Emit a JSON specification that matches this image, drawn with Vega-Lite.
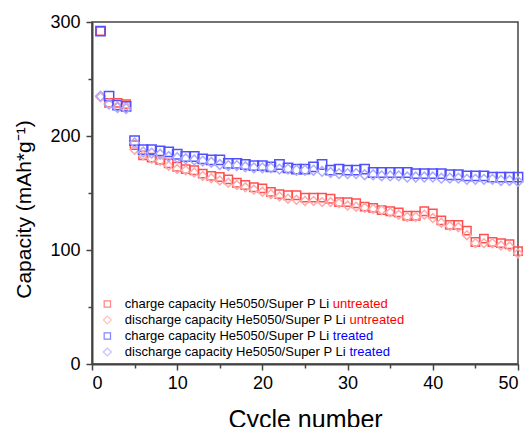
{
  "$schema": "https://vega.github.io/schema/vega-lite/v6.json",
  "width": 426,
  "height": 342,
  "autosize": {"type": "none"},
  "padding": {"left": 92, "top": 22, "right": 11, "bottom": 63},
  "background": "white",
  "config": {
    "view": {"stroke": "#444444", "strokeWidth": 1.5},
    "font": "Liberation Sans",
    "axis": {"grid": false, "domainColor": "#444444", "domainWidth": 2, "tickColor": "#444444", "tickWidth": 1.5, "labelColor": "black", "titleColor": "black", "labelFont": "Liberation Sans", "titleFont": "Liberation Sans", "titleFontWeight": "normal"}
  },
  "datasets": {
    "cap": [
      {"cycle": 1, "cu": 292, "du": 234, "ct": 292, "dt": 235},
      {"cycle": 2, "cu": 229, "du": 228, "ct": 235, "dt": 228},
      {"cycle": 3, "cu": 229, "du": 226, "ct": 227, "dt": 225},
      {"cycle": 4, "cu": 228, "du": 226, "ct": 226, "dt": 224},
      {"cycle": 5, "cu": 192, "du": 188, "ct": 196, "dt": 194},
      {"cycle": 6, "cu": 183, "du": 183, "ct": 188, "dt": 186},
      {"cycle": 7, "cu": 181, "du": 180, "ct": 188, "dt": 185},
      {"cycle": 8, "cu": 179, "du": 178, "ct": 187, "dt": 184},
      {"cycle": 9, "cu": 176, "du": 174, "ct": 186, "dt": 182},
      {"cycle": 10, "cu": 173, "du": 171, "ct": 184, "dt": 181},
      {"cycle": 11, "cu": 171, "du": 170, "ct": 182, "dt": 180},
      {"cycle": 12, "cu": 170, "du": 168, "ct": 182, "dt": 179},
      {"cycle": 13, "cu": 167, "du": 165, "ct": 180, "dt": 178},
      {"cycle": 14, "cu": 165, "du": 163, "ct": 179, "dt": 177},
      {"cycle": 15, "cu": 164, "du": 161, "ct": 179, "dt": 175},
      {"cycle": 16, "cu": 162, "du": 159, "ct": 176, "dt": 174},
      {"cycle": 17, "cu": 159, "du": 157, "ct": 176, "dt": 174},
      {"cycle": 18, "cu": 157, "du": 155, "ct": 175, "dt": 173},
      {"cycle": 19, "cu": 155, "du": 153, "ct": 174, "dt": 172},
      {"cycle": 20, "cu": 154, "du": 151, "ct": 174, "dt": 172},
      {"cycle": 21, "cu": 151, "du": 149, "ct": 173, "dt": 172},
      {"cycle": 22, "cu": 149, "du": 147, "ct": 175, "dt": 171},
      {"cycle": 23, "cu": 148, "du": 145, "ct": 172, "dt": 171},
      {"cycle": 24, "cu": 148, "du": 144, "ct": 171, "dt": 170},
      {"cycle": 25, "cu": 146, "du": 143, "ct": 171, "dt": 170},
      {"cycle": 26, "cu": 146, "du": 143, "ct": 173, "dt": 170},
      {"cycle": 27, "cu": 146, "du": 142, "ct": 175, "dt": 169},
      {"cycle": 28, "cu": 145, "du": 142, "ct": 170, "dt": 168},
      {"cycle": 29, "cu": 142, "du": 141, "ct": 171, "dt": 167},
      {"cycle": 30, "cu": 142, "du": 139, "ct": 170, "dt": 167},
      {"cycle": 31, "cu": 141, "du": 138, "ct": 170, "dt": 167},
      {"cycle": 32, "cu": 138, "du": 137, "ct": 171, "dt": 166},
      {"cycle": 33, "cu": 137, "du": 136, "ct": 168, "dt": 166},
      {"cycle": 34, "cu": 135, "du": 135, "ct": 168, "dt": 165},
      {"cycle": 35, "cu": 134, "du": 133, "ct": 168, "dt": 165},
      {"cycle": 36, "cu": 133, "du": 131, "ct": 168, "dt": 165},
      {"cycle": 37, "cu": 130, "du": 129, "ct": 168, "dt": 164},
      {"cycle": 38, "cu": 130, "du": 129, "ct": 167, "dt": 164},
      {"cycle": 39, "cu": 134, "du": 131, "ct": 167, "dt": 164},
      {"cycle": 40, "cu": 132, "du": 128, "ct": 167, "dt": 164},
      {"cycle": 41, "cu": 126, "du": 124, "ct": 167, "dt": 163},
      {"cycle": 42, "cu": 122, "du": 121, "ct": 166, "dt": 163},
      {"cycle": 43, "cu": 122, "du": 120, "ct": 166, "dt": 163},
      {"cycle": 44, "cu": 117, "du": 113, "ct": 165, "dt": 162},
      {"cycle": 45, "cu": 107, "du": 106, "ct": 165, "dt": 162},
      {"cycle": 46, "cu": 110, "du": 106, "ct": 165, "dt": 162},
      {"cycle": 47, "cu": 107, "du": 106, "ct": 164, "dt": 162},
      {"cycle": 48, "cu": 106, "du": 104, "ct": 164, "dt": 161},
      {"cycle": 49, "cu": 105, "du": 103, "ct": 164, "dt": 161},
      {"cycle": 50, "cu": 99, "du": 97, "ct": 164, "dt": 160}
    ],
    "legend": [
      {"series": "cu", "order": 1, "kind": "charge", "prefix": "charge capacity He5050/Super P Li", "word": "untreated"},
      {"series": "du", "order": 2, "kind": "discharge", "prefix": "discharge capacity He5050/Super P Li", "word": "untreated"},
      {"series": "ct", "order": 3, "kind": "charge", "prefix": "charge capacity He5050/Super P Li", "word": "treated"},
      {"series": "dt", "order": 4, "kind": "discharge", "prefix": "discharge capacity He5050/Super P Li", "word": "treated"}
    ]
  },
  "layer": [
    {
      "data": {"name": "cap"},
      "transform": [{"fold": ["cu", "du", "ct", "dt"], "as": ["series", "capacity"]}],
      "mark": {"type": "point", "filled": false, "strokeWidth": 1.5, "opacity": 1},
      "encoding": {
        "x": {"field": "cycle", "type": "quantitative", "scale": {"domain": [0, 50], "nice": false},
          "axis": {"title": "Cycle number", "titleFontSize": 25, "titlePadding": 15, "labelFontSize": 18, "labelPadding": 4,
            "values": [0, 5, 10, 15, 20, 25, 30, 35, 40, 45, 50],
            "labelExpr": "datum.value % 10 === 0 ? datum.label : ''",
            "tickSize": {"condition": {"test": "datum.value % 10 === 0", "value": 6}, "value": 4}}},
        "y": {"field": "capacity", "type": "quantitative", "scale": {"domain": [0, 300], "nice": false},
          "axis": {"title": "Capacity (mAh*g⁻¹)", "titleFontSize": 21, "titlePadding": 15, "titleY": 187, "labelFontSize": 18, "labelPadding": 6,
            "values": [0, 50, 100, 150, 200, 250, 300],
            "labelExpr": "datum.value % 100 === 0 ? datum.label : ''",
            "tickSize": {"condition": {"test": "datum.value % 100 === 0", "value": 6}, "value": 4}}},
        "color": {"field": "series", "type": "nominal", "scale": {"domain": ["cu", "du", "ct", "dt"], "range": ["#ff5050", "#ffaaaa", "#5050ff", "#aaaaff"]}, "legend": null},
        "shape": {"field": "series", "type": "nominal", "scale": {"domain": ["cu", "du", "ct", "dt"], "range": ["square", "diamond", "square", "diamond"]}, "legend": null},
        "size": {"field": "series", "type": "nominal", "scale": {"domain": ["cu", "du", "ct", "dt"], "range": [70, 95, 70, 95]}, "legend": null}
      }
    },
    {
      "data": {"name": "legend"},
      "mark": {"type": "point", "filled": false, "strokeWidth": 1.2},
      "encoding": {
        "x": {"datum": 1.8, "type": "quantitative"},
        "y": {"field": "order", "type": "quantitative", "scale": {"domain": [-16.625, 4.75], "reverse": true, "nice": false, "zero": false}, "axis": null},
        "color": {"field": "series", "type": "nominal", "legend": null},
        "shape": {"field": "series", "type": "nominal", "legend": null},
        "size": {"condition": {"test": "datum.kind === 'charge'", "value": 40}, "value": 64}
      }
    },
    {
      "data": {"name": "legend"},
      "mark": {"type": "text", "align": "left", "baseline": "middle", "fontSize": 13, "font": "Liberation Sans", "color": "black"},
      "encoding": {
        "x": {"datum": 3.85, "type": "quantitative"},
        "y": {"field": "order", "type": "quantitative", "scale": {"domain": [-16.625, 4.75], "reverse": true, "nice": false, "zero": false}, "axis": null},
        "text": {"field": "prefix"}
      }
    },
    {
      "data": {"name": "legend"},
      "transform": [{"filter": "datum.kind === 'charge'"}],
      "mark": {"type": "text", "align": "left", "baseline": "middle", "fontSize": 13, "font": "Liberation Sans", "dx": 208},
      "encoding": {
        "x": {"datum": 3.85, "type": "quantitative"},
        "y": {"field": "order", "type": "quantitative", "scale": {"domain": [-16.625, 4.75], "reverse": true, "nice": false, "zero": false}, "axis": null},
        "text": {"field": "word"},
        "color": {"condition": {"test": "datum.word === 'untreated'", "value": "#ff0000"}, "value": "#0000ff"}
      }
    },
    {
      "data": {"name": "legend"},
      "transform": [{"filter": "datum.kind === 'discharge'"}],
      "mark": {"type": "text", "align": "left", "baseline": "middle", "fontSize": 13, "font": "Liberation Sans", "dx": 224.6},
      "encoding": {
        "x": {"datum": 3.85, "type": "quantitative"},
        "y": {"field": "order", "type": "quantitative", "scale": {"domain": [-16.625, 4.75], "reverse": true, "nice": false, "zero": false}, "axis": null},
        "text": {"field": "word"},
        "color": {"condition": {"test": "datum.word === 'untreated'", "value": "#ff0000"}, "value": "#0000ff"}
      }
    }
  ],
  "resolve": {"scale": {"y": "independent"}, "axis": {"y": "independent"}}
}
